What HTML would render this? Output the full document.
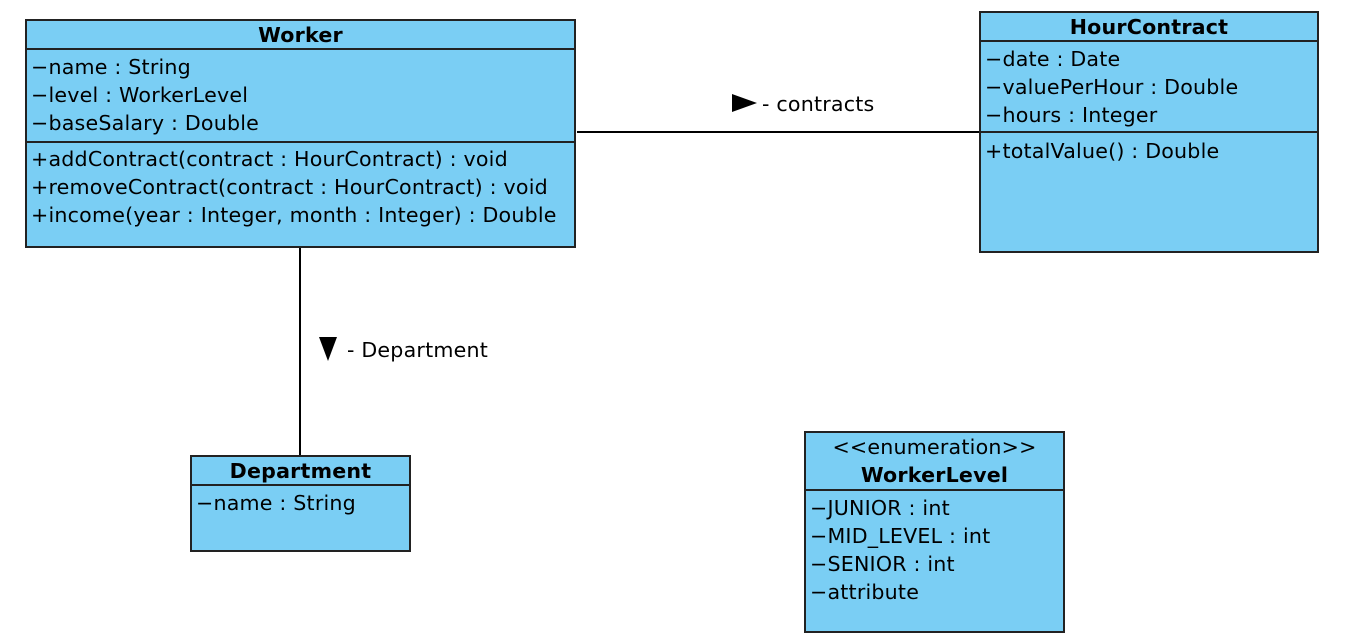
<!DOCTYPE html>
<html><head><style>
body{margin:0;width:1364px;height:644px;background:#fff;position:relative;font-family:"DejaVu Sans","Liberation Sans",sans-serif;overflow:hidden}
.b{position:absolute;background:#7ACEF4;border:2px solid #222;box-sizing:border-box}
.t{position:absolute;font-size:20.6px;white-space:nowrap;line-height:24px;color:#000;letter-spacing:0.2px}
.h{font-weight:bold;text-align:center;left:0;right:0}
.s{position:absolute;left:0;right:0;height:2px;background:#222}
.ln{position:absolute;background:#000}
</style></head><body>
<div class="b" style="left:25px;top:19px;width:551px;height:229px">
<div class="t h" style="top:2px">Worker</div>
<div class="s" style="top:27px"></div>
<div class="t" style="left:4px;top:34px">−name : String</div>
<div class="t" style="left:4px;top:62px">−level : WorkerLevel</div>
<div class="t" style="left:4px;top:90px">−baseSalary : Double</div>
<div class="s" style="top:120px"></div>
<div class="t" style="left:4px;top:126px">+addContract(contract : HourContract) : void</div>
<div class="t" style="left:4px;top:154px">+removeContract(contract : HourContract) : void</div>
<div class="t" style="left:4px;top:182px">+income(year : Integer, month : Integer) : Double</div>
</div>
<div class="b" style="left:979px;top:11px;width:340px;height:242px">
<div class="t h" style="top:2px">HourContract</div>
<div class="s" style="top:27px"></div>
<div class="t" style="left:4px;top:34px">−date : Date</div>
<div class="t" style="left:4px;top:62px">−valuePerHour : Double</div>
<div class="t" style="left:4px;top:90px">−hours : Integer</div>
<div class="s" style="top:118px"></div>
<div class="t" style="left:4px;top:126px">+totalValue() : Double</div>
</div>
<div class="b" style="left:190px;top:455px;width:221px;height:97px">
<div class="t h" style="top:2px">Department</div>
<div class="s" style="top:27px"></div>
<div class="t" style="left:4px;top:34px">−name : String</div>
</div>
<div class="b" style="left:804px;top:431px;width:261px;height:202px">
<div class="t" style="left:0;right:0;text-align:center;top:2px">&lt;&lt;enumeration&gt;&gt;</div>
<div class="t h" style="top:30px">WorkerLevel</div>
<div class="s" style="top:56px"></div>
<div class="t" style="left:4px;top:63px">−JUNIOR : int</div>
<div class="t" style="left:4px;top:91px">−MID_LEVEL : int</div>
<div class="t" style="left:4px;top:119px">−SENIOR : int</div>
<div class="t" style="left:4px;top:147px">−attribute</div>
</div>
<div class="ln" style="left:577px;top:131px;width:402px;height:2px"></div>
<div class="ln" style="left:299px;top:248px;width:2px;height:207px"></div>
<svg style="position:absolute;left:0;top:0" width="1364" height="644">
<polygon points="732,94 757,103 732,112" fill="#000"/>
<polygon points="319,337 337,337 328,361" fill="#000"/>
</svg>
<div class="t" style="left:762px;top:92px">- contracts</div>
<div class="t" style="left:347px;top:338px">- Department</div>
</body></html>
